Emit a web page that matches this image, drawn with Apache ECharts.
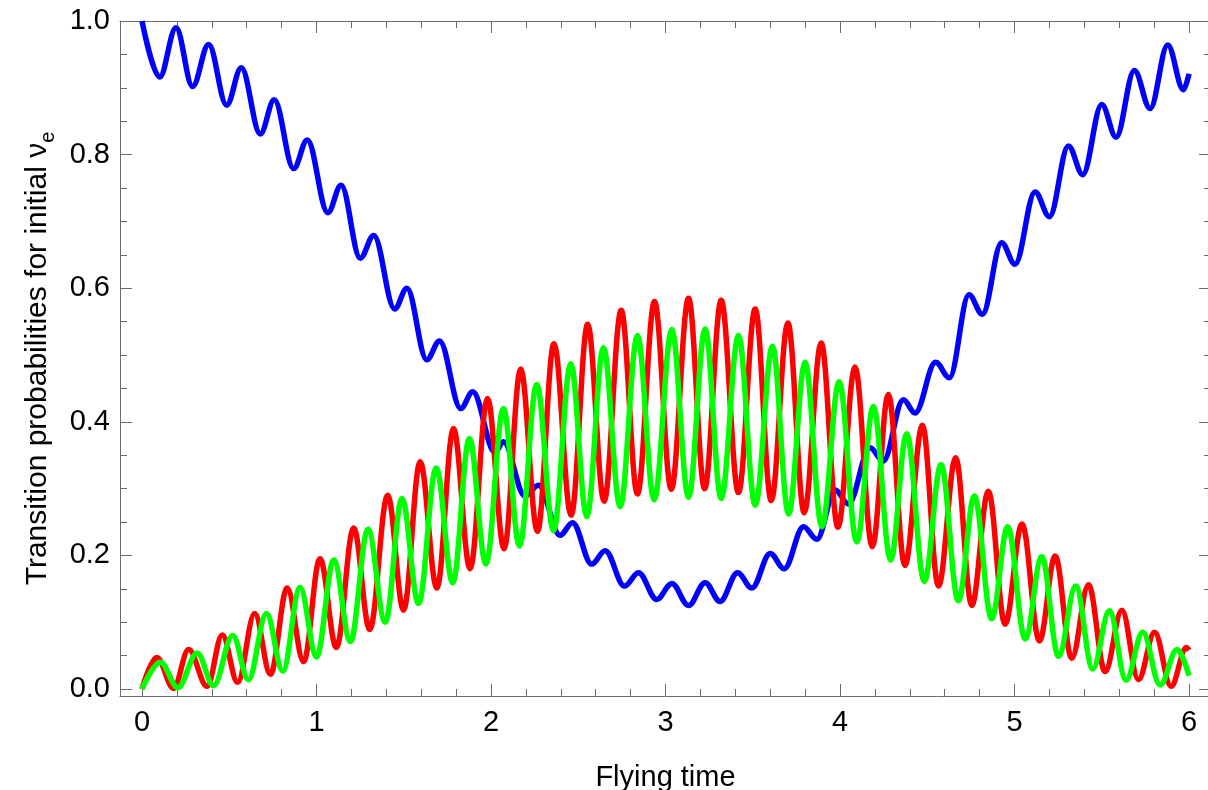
<!DOCTYPE html>
<html>
<head>
<meta charset="utf-8">
<script src="https://cdn.jsdelivr.net/npm/echarts@6/dist/echarts.min.js"></script>
<style>
  html, body { margin: 0; padding: 0; background: #ffffff; }
  #chart { width: 1208px; height: 790px; }
</style>
</head>
<body>
<div id="chart"></div>
<script>
// Turning points of each oscillation curve: [flying time, probability]
const probE = [
  [0, 1.0], [0.101, 0.916], [0.195, 0.990], [0.290, 0.902], [0.382, 0.965],
  [0.485, 0.874], [0.569, 0.930], [0.678, 0.831], [0.758, 0.882], [0.869, 0.779],
  [0.947, 0.822], [1.065, 0.713], [1.141, 0.754], [1.251, 0.645], [1.328, 0.679],
  [1.448, 0.569], [1.518, 0.600], [1.632, 0.493], [1.705, 0.521], [1.827, 0.420],
  [1.895, 0.445], [2.023, 0.354], [2.071, 0.370], [2.195, 0.289], [2.272, 0.305],
  [2.396, 0.230], [2.467, 0.249], [2.577, 0.187], [2.654, 0.207], [2.765, 0.154],
  [2.845, 0.174], [2.950, 0.134], [3.036, 0.158], [3.132, 0.125], [3.227, 0.159],
  [3.313, 0.131], [3.413, 0.174], [3.495, 0.151], [3.600, 0.203], [3.680, 0.180],
  [3.791, 0.243], [3.867, 0.224], [3.972, 0.298], [4.048, 0.277], [4.172, 0.361],
  [4.248, 0.341], [4.363, 0.433], [4.430, 0.413], [4.548, 0.489], [4.627, 0.466],
  [4.739, 0.590], [4.816, 0.561], [4.926, 0.668], [5.003, 0.636], [5.118, 0.744],
  [5.200, 0.707], [5.309, 0.813], [5.391, 0.770], [5.500, 0.875], [5.582, 0.826],
  [5.687, 0.926], [5.777, 0.869], [5.878, 0.964], [5.968, 0.897], [6.0, 0.921]
];

const probMu = [
  [0, 0.0], [0.085, 0.047], [0.181, 0.001], [0.267, 0.059], [0.373, 0.004],
  [0.460, 0.081], [0.548, 0.010], [0.646, 0.113], [0.736, 0.022], [0.832, 0.151],
  [0.926, 0.041], [1.020, 0.195], [1.114, 0.062], [1.213, 0.241], [1.305, 0.089],
  [1.408, 0.290], [1.499, 0.118], [1.594, 0.340], [1.690, 0.151], [1.785, 0.390],
  [1.880, 0.180], [1.980, 0.435], [2.075, 0.210], [2.170, 0.479], [2.266, 0.236],
  [2.361, 0.517], [2.459, 0.260], [2.554, 0.546], [2.648, 0.281], [2.746, 0.567],
  [2.839, 0.292], [2.937, 0.580], [3.033, 0.299], [3.132, 0.585], [3.224, 0.300],
  [3.319, 0.582], [3.418, 0.294], [3.514, 0.569], [3.606, 0.282], [3.701, 0.548],
  [3.795, 0.264], [3.892, 0.518], [3.988, 0.242], [4.086, 0.482], [4.185, 0.213],
  [4.277, 0.441], [4.372, 0.185], [4.472, 0.395], [4.564, 0.154], [4.663, 0.346],
  [4.755, 0.125], [4.850, 0.296], [4.946, 0.097], [5.043, 0.247], [5.143, 0.072],
  [5.233, 0.199], [5.328, 0.046], [5.424, 0.156], [5.519, 0.026], [5.615, 0.118],
  [5.710, 0.014], [5.803, 0.085], [5.897, 0.004], [5.985, 0.062], [6.0, 0.058]
];

const probTau = [
  [0, 0.0], [0.105, 0.040], [0.206, 0.002], [0.316, 0.054], [0.410, 0.005],
  [0.520, 0.080], [0.610, 0.014], [0.713, 0.113], [0.807, 0.027], [0.906, 0.152],
  [1.000, 0.048], [1.099, 0.193], [1.194, 0.071], [1.295, 0.239], [1.394, 0.100],
  [1.490, 0.285], [1.585, 0.128], [1.686, 0.331], [1.781, 0.159], [1.876, 0.375],
  [1.971, 0.187], [2.071, 0.420], [2.163, 0.214], [2.262, 0.456], [2.358, 0.237],
  [2.457, 0.487], [2.549, 0.258], [2.644, 0.511], [2.740, 0.273], [2.839, 0.529],
  [2.935, 0.283], [3.036, 0.538], [3.132, 0.287], [3.227, 0.539], [3.319, 0.285],
  [3.418, 0.529], [3.514, 0.275], [3.613, 0.513], [3.705, 0.262], [3.800, 0.489],
  [3.896, 0.243], [3.995, 0.460], [4.096, 0.220], [4.191, 0.423], [4.290, 0.193],
  [4.382, 0.382], [4.483, 0.161], [4.579, 0.336], [4.678, 0.132], [4.770, 0.289],
  [4.869, 0.105], [4.961, 0.243], [5.061, 0.075], [5.156, 0.198], [5.252, 0.049],
  [5.351, 0.154], [5.448, 0.030], [5.544, 0.117], [5.639, 0.013], [5.735, 0.085],
  [5.834, 0.006], [5.932, 0.059], [6.0, 0.020]
];

const xTitle = 'Flying time';
const yTitle = '{t|Transition probabilities for initial }{nu|ν}{sub|e}';

const FONT = '"Liberation Sans", Arial, Helvetica, sans-serif';
const FRAME = '#6b6b6b';
const X_RANGE = [-0.126, 6.126];
const Y_RANGE = [-0.0105, 1.0];

function frameTicks() {
  return {
    axisLine: { show: true, onZero: false, lineStyle: { color: FRAME, width: 1 } },
    axisTick: { show: true, inside: true, length: 12, lineStyle: { color: FRAME, width: 1 } },
    minorTick: { show: true, length: 7, lineStyle: { color: FRAME, width: 1 } },
    splitLine: { show: false },
    minorSplitLine: { show: false }
  };
}

function xAxisDef(position, labelled) {
  const ax = Object.assign({
    type: 'value', position: position,
    min: X_RANGE[0], max: X_RANGE[1], splitNumber: 6
  }, frameTicks());
  ax.minorTick.splitNumber = 5;
  ax.axisLabel = labelled ? {
    show: true, margin: 12, fontSize: 29, fontFamily: FONT, color: '#000',
    showMinLabel: false, showMaxLabel: false,
    formatter: v => String(Math.round(v))
  } : { show: false };
  if (labelled) {
    ax.name = xTitle;
    ax.nameLocation = 'middle';
    ax.nameGap = 67;
    ax.nameTextStyle = { fontSize: 29, fontFamily: FONT, color: '#000' };
  }
  return ax;
}

function yAxisDef(position, labelled) {
  const ax = Object.assign({
    type: 'value', position: position,
    min: Y_RANGE[0], max: Y_RANGE[1], splitNumber: 5
  }, frameTicks());
  ax.minorTick.splitNumber = 4;
  ax.axisLabel = labelled ? {
    show: true, margin: 10, fontSize: 29, fontFamily: FONT, color: '#000',
    showMinLabel: false, showMaxLabel: true,
    formatter: v => Math.abs(v).toFixed(1)
  } : { show: false };
  if (labelled) {
    ax.name = yTitle;
    ax.nameLocation = 'middle';
    ax.nameGap = 62;
    ax.nameTextStyle = {
      color: '#000',
      rich: {
        t: { fontSize: 30, fontFamily: FONT, color: '#000', lineHeight: 40 },
        nu: { fontSize: 30, fontFamily: FONT, color: '#000', lineHeight: 40 },
        sub: { fontSize: 20, fontFamily: FONT, color: '#000', lineHeight: 20, verticalAlign: 'bottom' }
      }
    };
  }
  return ax;
}

function curve(name, data, color) {
  return {
    name: name, type: 'line', data: data,
    xAxisIndex: 0, yAxisIndex: 0,
    showSymbol: false, symbol: 'none',
    smooth: 0.36, smoothMonotone: 'x',
    clip: true,
    lineStyle: { color: color, width: 5.5 },
    emphasis: { disabled: true }
  };
}

const chart = echarts.init(document.getElementById('chart'), null, { renderer: 'canvas' });
chart.setOption({
  animation: false,
  backgroundColor: '#ffffff',
  grid: { left: 120, top: 21, right: -3, bottom: 94, containLabel: false, outerBoundsMode: 'none' },
  xAxis: [xAxisDef('bottom', true), xAxisDef('top', false)],
  yAxis: [yAxisDef('left', true), yAxisDef('right', false)],
  series: [
    curve('P(νe→νe)', probE, '#0000ff'),
    curve('P(νe→νμ)', probMu, '#ff0000'),
    curve('P(νe→ντ)', probTau, '#00ff00')
  ]
});
</script>
</body>
</html>
